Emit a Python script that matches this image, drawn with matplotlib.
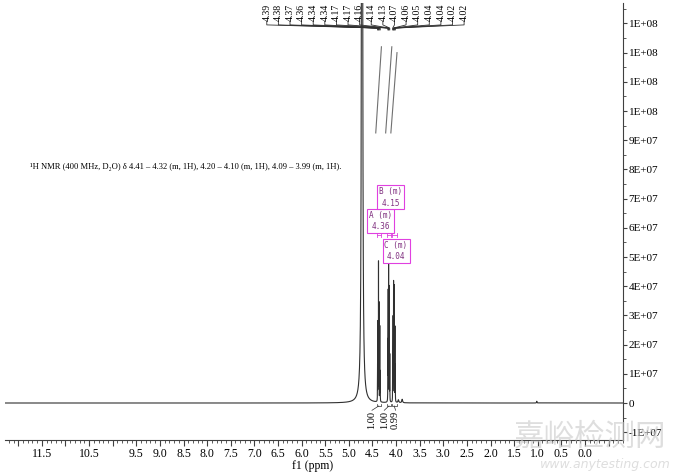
import numpy as np
import matplotlib
matplotlib.use("Agg")
import matplotlib.pyplot as plt
from matplotlib.ticker import FixedLocator, MultipleLocator, FuncFormatter

# peak list (ppm, intensity)
shift_a = [4.392, 4.383, 4.372, 4.362, 4.345, 4.336]
height_a = [1.2e7, 2.7e7, 4.7e7, 3.3e7, 2.6e7, 1.0e7]
shift_b = [4.173, 4.166, 4.158, 4.144, 4.133]
height_b = [2.0e7, 3.6e7, 5.3e7, 3.9e7, 1.6e7]
shift_c = [4.072, 4.062, 4.053, 4.045, 4.038, 4.024, 4.017]
height_c = [1.3e7, 2.8e7, 4.0e7, 3.6e7, 3.8e7, 2.5e7, 1.2e7]
peak_labels = ["4.39", "4.38", "4.37", "4.36", "4.34", "4.34",
               "4.17", "4.17", "4.16", "4.14", "4.13",
               "4.07", "4.06", "4.05", "4.04", "4.04", "4.02", "4.02"]
# solvent and small impurity peaks
other_shift = [4.72, 3.95, 3.87, 1.02]
other_height = [1.0e9, 1.0e6, 1.2e6, 6e5]
other_width = [0.006, 0.01, 0.01, 0.005]

# multiplets
mult_names = ["A", "B", "C"]
mult_centers = ["4.36", "4.15", "4.04"]
mult_start = [4.41, 4.20, 4.09]
mult_end = [4.32, 4.10, 3.99]
integrals = ["1.00", "1.00", "0.99"]
int_top = [12.2e7, 12.2e7, 12.0e7]
int_bottom = 9.25e7

xtick_labels = [11.5, 10.5, 9.5, 9.0, 8.5, 8.0, 7.5, 7.0, 6.5, 6.0, 5.5, 5.0,
                4.5, 4.0, 3.5, 3.0, 2.5, 2.0, 1.5, 1.0, 0.5, 0.0]

line_col = "#303030"
mag = "#e040e0"

shifts = shift_a + shift_b + shift_c
heights = height_a + height_b + height_c

ppm = np.arange(-0.9, 12.4, 0.0004)
spec = np.zeros_like(ppm)
g = 0.0015
for s, h in zip(shifts, heights):
    spec += h * g**2 / ((ppm - s)**2 + g**2)
for s, h, w in zip(other_shift, other_height, other_width):
    spec += h * w**2 / ((ppm - s)**2 + w**2)

fig = plt.figure(figsize=(6.8, 4.73), dpi=100)
ax = fig.add_axes([5/680, 33/473, 618/680, 437/473])
ax.plot(ppm, spec, color=line_col, lw=0.8)

ax.set_xlim(12.28, -0.805)
ax.set_ylim(-1.267e7, 13.70e7)

for sp in ["top", "left"]:
    ax.spines[sp].set_visible(False)
for sp in ["bottom", "right"]:
    ax.spines[sp].set_color("#404040")
    ax.spines[sp].set_linewidth(0.8)

serif = ["Liberation Serif", "DejaVu Serif"]

ax.xaxis.set_major_locator(FixedLocator(np.arange(-0.5, 12.01, 0.5)))
ax.xaxis.set_minor_locator(MultipleLocator(0.1))
ax.xaxis.set_major_formatter(FuncFormatter(
    lambda v, p: f"{v:.1f}" if any(abs(v - t) < 1e-6 for t in xtick_labels) else ""))
ax.tick_params(axis="x", which="major", length=4, width=0.8, colors="#404040",
               labelsize=8.5, labelcolor="black", pad=2)
ax.tick_params(axis="x", which="minor", length=2, width=0.6, colors="#404040")
for lab in ax.get_xticklabels():
    lab.set_family(serif)

ax.yaxis.tick_right()
ax.yaxis.set_major_locator(FixedLocator(np.arange(-1e7, 1.31e8, 1e7)))
ax.yaxis.set_minor_locator(MultipleLocator(5e6))
ax.yaxis.set_major_formatter(FuncFormatter(lambda v, p: "0" if abs(v) < 1 else f"{v:.0E}"))
ax.tick_params(axis="y", which="major", length=3, width=0.8, colors="#404040",
               labelsize=8, labelcolor="black", pad=1)
ax.tick_params(axis="y", which="minor", length=2, width=0.6, colors="#404040")
for lab in ax.get_yticklabels():
    lab.set_family(serif)

ax.set_xlabel("f1 (ppm)", family=serif, fontsize=8.5, labelpad=0)
ax.xaxis.set_label_coords(0.497, -0.045)

# peak pick labels across the top
lab_x = np.linspace((585 - 267) / 47.2, (585 - 464.2) / 47.2, len(peak_labels))
for lx, s, t in zip(lab_x, shifts, peak_labels):
    ax.text(lx, 13.1e7, t, rotation=90, ha="center", va="bottom", fontsize=7,
            family=serif, clip_on=False)
    ax.plot([lx, lx, s, s], [13.08e7, 12.95e7, 12.84e7, 12.78e7],
            color=line_col, lw=0.6, clip_on=False)

# integral curves
for a, b, top in zip(mult_start, mult_end, int_top):
    xs = np.linspace(a + 0.02, b - 0.01, 30)
    ys = int_bottom + (top - int_bottom) * (xs - xs[0]) / (xs[-1] - xs[0])
    ax.plot(xs, ys, color="#707070", lw=0.8)

# integration brackets and values
int_lab_x = [4.51, 4.25, 4.01]
for a, b, lx, t in zip(mult_start, mult_end, int_lab_x, integrals):
    mid = (a + b) / 2
    ax.plot([a, a, b, b], [-0.03e7, -0.1e7, -0.1e7, -0.03e7], color=line_col, lw=0.5)
    ax.plot([mid, lx], [-0.1e7, -0.25e7], color=line_col, lw=0.5)
    ax.text(lx, -0.27e7, t, rotation=90, ha="center", va="top", fontsize=7.5,
            family=serif)

# multiplet range markers and boxes
box_pos = [(4.33, 6.22e7), (4.11, 7.04e7), (4.00, 5.2e7)]
for a, b, n, c, (bx, by) in zip(mult_start, mult_end, mult_names, mult_centers, box_pos):
    ax.plot([a, b], [5.75e7, 5.75e7], color=mag, lw=0.6)
    ax.plot([a, a], [5.67e7, 5.83e7], color=mag, lw=0.6)
    ax.plot([b, b], [5.67e7, 5.83e7], color=mag, lw=0.6)
    ax.text(bx, by, f"{n} (m)\n{c}", ha="center", va="center", fontsize=5.5,
            family="DejaVu Sans Mono", color="#803080", linespacing=1.3,
            bbox=dict(boxstyle="square,pad=0.25", fc="white", ec=mag, lw=0.8))

ax.text(0.04, 0.625,
        "\u00b9H NMR (400 MHz, D\u2082O) \u03b4 4.41 \u2013 4.32 (m, 1H), 4.20 \u2013 4.10 (m, 1H), 4.09 \u2013 3.99 (m, 1H).",
        transform=ax.transAxes, fontsize=6.1, family=serif, va="center")

# watermark
fig.text(0.868, 0.075, "嘉峪检测网", fontsize=22, color="#c8c8c8", alpha=0.6,
         ha="center", va="center", family=["Noto Sans CJK SC", "DejaVu Sans"])
fig.text(0.89, 0.018, "www.anytesting.com", fontsize=9, color="#c8c8c8", alpha=0.6,
         ha="center", va="center", style="italic")

fig.savefig("out.png", dpi=100)
